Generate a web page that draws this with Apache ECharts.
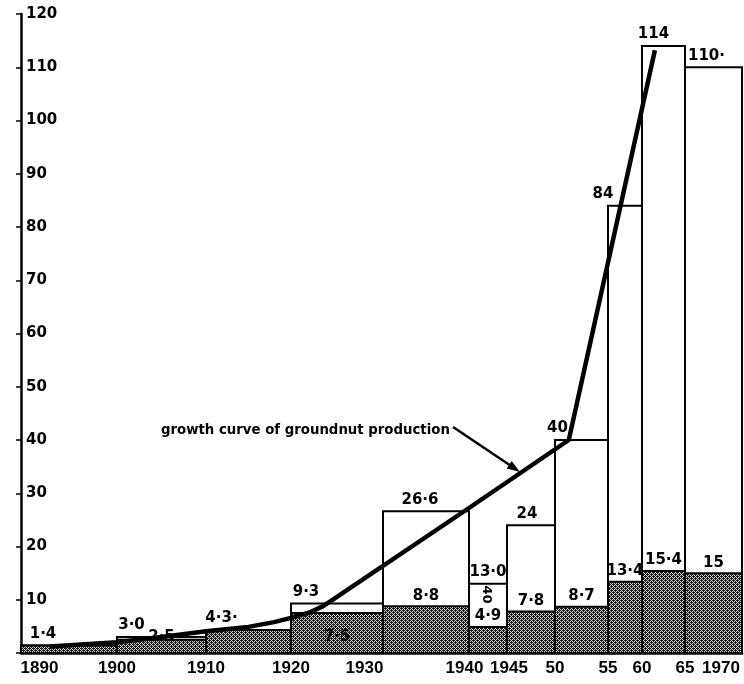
<!DOCTYPE html>
<html><head><meta charset="utf-8">
<script src="https://cdn.jsdelivr.net/npm/echarts@6/dist/echarts.min.js"></script>
<style>html,body{margin:0;padding:0;background:#fff}#c{width:744px;height:684px}</style>
</head><body><div id="c"></div>
<script>
// ---------- data ----------
const periodStart  = [1890,1900,1910,1920,1930,1940,1945,1950,1955,1960,1965];
const periodEnd    = [1900,1910,1920,1930,1940,1945,1950,1955,1960,1965,1970];
const totalValues  = [1.4,3.0,4.3,9.3,26.6,13.0,24,40,84,114,110];
const shadedValues = [1.4,2.5,4.3,7.5,8.8,4.9,7.8,8.7,13.4,15.4,15];
const totalLabels  = ['1·4','3·0','4·3·','9·3','26·6','13·0','24','40','84','114','110·'];
const shadedLabels = ['','2·5','','7·5','8·8','4·9','7·8','8·7','13·4','15·4','15'];
const curveYears   = [1893,1900,1905,1910,1915,1918,1920,1922,1923.5,1939.7,1951.3,1961.5];
const curveValues  = [1.2,2.0,3.0,4.1,4.9,5.8,6.6,7.6,8.8,26.9,40,113.2];
const tickYears    = [1890,1900,1910,1920,1930,1940,1945,1950,1955,1960,1965,1970];
const tickLabels   = ['1890','1900','1910','1920','1930','1940','1945','50','55','60','65','1970'];
const annotation   = 'growth curve of groundnut production';
const extraNote    = '40';
const extraNoteAt  = [1942.3, 11.0];

// ---------- layout (hand-drawn, uneven time axis) ----------
const axisStops    = [0,96,185,270,362,448,486,534,587,621,664,721];
const totalLabelDx = [-26,-30,-27,-31,-6,0,-4,-24,-22,-10,-7];
const tickRich     = {'1890':'a','1930':'b','1940':'d','1945':'e','1970':'c'};

function yearToX(y){
  for (let i=0;i<tickYears.length-1;i++){
    if (y<=tickYears[i+1]){
      const t=(y-tickYears[i])/(tickYears[i+1]-tickYears[i]);
      return axisStops[i]+t*(axisStops[i+1]-axisStops[i]);
    }
  }
  return axisStops[axisStops.length-1];
}

// dither pattern for shaded part
const pc=document.createElement('canvas'); pc.width=4; pc.height=4;
const pctx=pc.getContext('2d');
pctx.fillStyle='#d4d4d4'; pctx.fillRect(0,0,4,4);
pctx.fillStyle='#1a1a1a';
for(let y=0;y<4;y++)for(let x=0;x<4;x++){ if((x+y)%2===0) pctx.fillRect(x,y,1,1); }
pctx.fillRect(1,0,1,1); pctx.fillRect(3,2,1,1);
const pattern={image:pc,repeat:'repeat'};

const barData=periodStart.map((s,i)=>[yearToX(s),yearToX(periodEnd[i]),totalValues[i],shadedValues[i]]);
const lineData=curveYears.map((y,i)=>[yearToX(y),curveValues[i]]);
const labelPos=tickYears.map(yearToX);

const valFont='bold 15px "DejaVu Sans"';
const xl={fontFamily:'Liberation Sans',fontWeight:'bold',fontSize:17,color:'#000'};

const chart=echarts.init(document.getElementById('c'),null,{renderer:'canvas'});
chart.setOption({
  animation:false,
  backgroundColor:'#fff',
  grid:{left:21,right:2,top:14,bottom:31,containLabel:false},
  xAxis:{
    type:'value',min:0,max:axisStops[axisStops.length-1],
    splitLine:{show:false},
    axisLine:{show:true,onZero:false,lineStyle:{color:'#000',width:2.5}},
    axisTick:{show:false},
    axisLabel:{
      customValues:labelPos,margin:7,
      color:'#000',fontFamily:'Liberation Sans',fontWeight:'bold',fontSize:17,
      formatter:function(v){
        let k=0,b=1e9;
        labelPos.forEach((p,i)=>{const d=Math.abs(p-v); if(d<b){b=d;k=i;}});
        const t=tickLabels[k];
        return tickRich[t]?'{'+tickRich[t]+'|'+t+'}':t;
      },
      rich:{
        a:Object.assign({padding:[0,0,0,37]},xl),
        b:Object.assign({padding:[0,37,0,0]},xl),
        c:Object.assign({padding:[0,42,0,0]},xl),
        d:Object.assign({padding:[0,9,0,0]},xl),
        e:Object.assign({padding:[0,0,0,4]},xl)
      }
    }
  },
  yAxis:{
    type:'value',min:0,max:120,interval:10,
    splitLine:{show:false},
    axisLine:{show:true,lineStyle:{color:'#000',width:2.5}},
    axisTick:{show:true,length:5,lineStyle:{color:'#000',width:1.5}},
    axisLabel:{inside:true,margin:5,color:'#000',fontFamily:'DejaVu Sans',fontWeight:'bold',fontSize:15,
      formatter:v=>v===0?'':String(v)}
  },
  series:[
    {
      type:'custom',z:2,
      data:barData,
      renderItem:function(params,api){
        const i=params.dataIndex;
        const x0=api.value(0),x1=api.value(1),tot=api.value(2),sh=api.value(3);
        const p0=api.coord([x0,0]),pt=api.coord([x1,tot]),ps=api.coord([x1,sh]);
        const w=pt[0]-p0[0];
        const cx=p0[0]+w/2;
        const ch=[];
        ch.push({type:'rect',shape:{x:p0[0],y:pt[1],width:w,height:p0[1]-pt[1]},
          style:{fill:'#fff',stroke:'#000',lineWidth:2}});
        ch.push({type:'rect',shape:{x:p0[0],y:ps[1],width:w,height:p0[1]-ps[1]},
          style:{fill:pattern,stroke:'#000',lineWidth:2}});
        ch.push({type:'text',z2:5,style:{text:totalLabels[i],x:cx+totalLabelDx[i],y:pt[1]-4,
          align:'center',verticalAlign:'bottom',font:valFont,fill:'#000'}});
        if(shadedLabels[i]){
          const inside = (ps[1]-pt[1])<18;
          ch.push({type:'text',z2:5,style:{text:shadedLabels[i],x:cx,
            y: inside? p0[1]-8 : ps[1]-3,
            align:'center',verticalAlign:'bottom',font:valFont,fill:'#000'}});
        }
        return {type:'group',children:ch};
      }
    },
    {
      type:'line',z:5,data:lineData,symbol:'none',smooth:false,
      lineStyle:{color:'#000',width:4.5,join:'round'},
      silent:true
    }
  ]
});

// annotations
const a1=chart.convertToPixel({gridIndex:0},[yearToX(extraNoteAt[0]),extraNoteAt[1]]);
const tip=[520,472], st=[459,431];
const dx=tip[0]-st[0], dy=tip[1]-st[1], L=Math.hypot(dx,dy), ux=dx/L, uy=dy/L;
const hb=[tip[0]-13*ux,tip[1]-13*uy];
chart.setOption({graphic:[
  {type:'text',x:161,y:431,style:{text:annotation,font:'bold 13.3px "DejaVu Sans"',fill:'#000',verticalAlign:'middle',align:'left'},z:20},
  {type:'polyline',shape:{points:[[453,427],st,[tip[0]-8*ux,tip[1]-8*uy]]},style:{stroke:'#000',lineWidth:2.5,fill:null},z:20},
  {type:'polygon',shape:{points:[tip,[hb[0]-4.5*uy,hb[1]+4.5*ux],[hb[0]+4.5*uy,hb[1]-4.5*ux]]},style:{fill:'#000'},z:20},
  {type:'text',x:a1[0],y:a1[1],rotation:-Math.PI/2,style:{text:extraNote,font:'bold 13px "DejaVu Sans"',fill:'#000',align:'center',verticalAlign:'middle'},z:20}
]});
</script></body></html>
